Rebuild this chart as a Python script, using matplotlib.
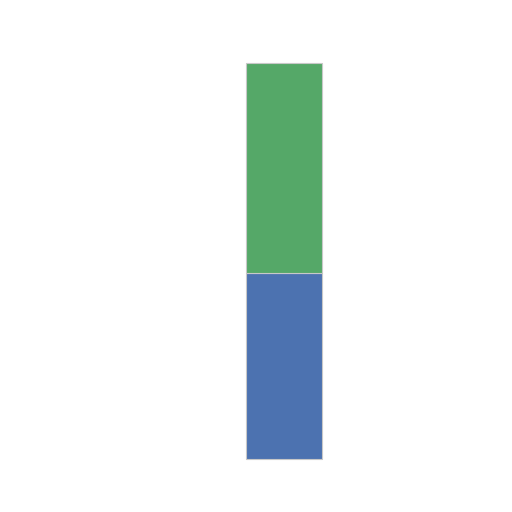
import matplotlib.pyplot as plt

# stacked shares (bottom to top)
categories = ['A']
bottom_vals = [47]
top_vals = [53]

fig = plt.figure(figsize=(5.12, 5.12), dpi=100)
ax = fig.add_axes([0, 0, 1, 1])

px_x = 76.0  # pixels per x unit
px_y = 3.96  # pixels per y unit
ax.bar(categories, bottom_vals, width=1.0, color='#4C72B0', edgecolor='#c8c8c8', linewidth=0.8)
ax.bar(categories, top_vals, bottom=bottom_vals, width=1.0, color='#55A868', edgecolor='#c8c8c8', linewidth=0.8)

ax.set_xlim(-284 / px_x, (512 - 284) / px_x)
ax.set_ylim(-53 / px_y, (512 - 53) / px_y)
ax.axis('off')

fig.savefig('out.png', dpi=100)
